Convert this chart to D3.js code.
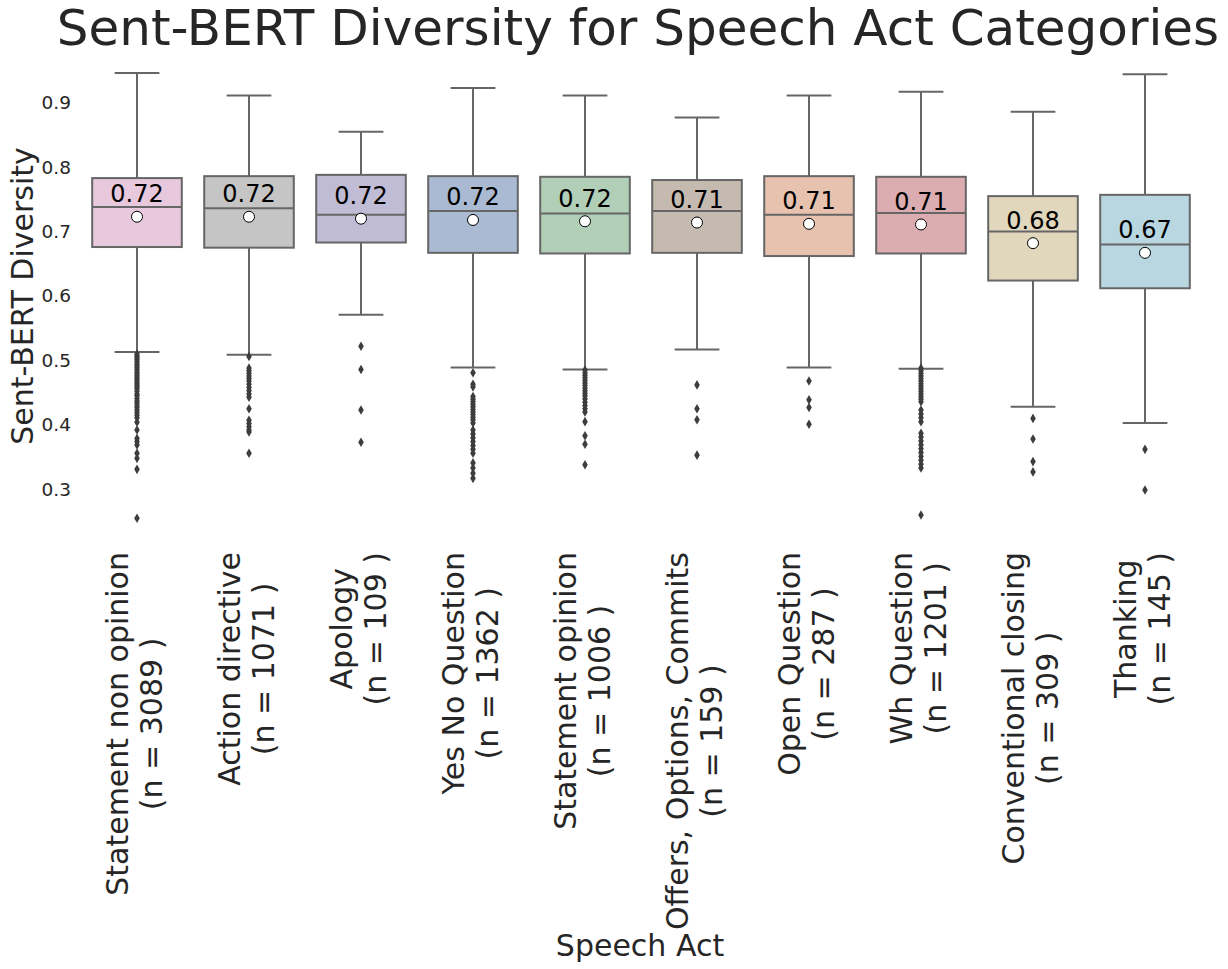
<!DOCTYPE html>
<html>
<head>
<meta charset="utf-8">
<script src="https://cdn.jsdelivr.net/npm/d3@7/dist/d3.min.js"></script>
<style>
  html, body { margin: 0; padding: 0; background: #fff; }
  svg { display: block; font-family: "DejaVu Sans", sans-serif; }
</style>
</head>
<body>
<svg id="chart" width="1228" height="969"></svg>
<script>
// ---- Data ----
const categories = ["Statement non opinion", "Action directive", "Apology", "Yes No Question",
  "Statement opinion", "Offers, Options, Commits", "Open Question", "Wh Question",
  "Conventional closing", "Thanking"];
const counts = [3089, 1071, 109, 1362, 1006, 159, 287, 1201, 309, 145];
const whiskerHigh = [0.946, 0.911, 0.855, 0.923, 0.911, 0.877, 0.911, 0.917, 0.886, 0.944];
const q3 = [0.783, 0.786, 0.788, 0.786, 0.785, 0.780, 0.786, 0.785, 0.755, 0.757];
const medians = [0.738, 0.736, 0.726, 0.732, 0.728, 0.732, 0.726, 0.729, 0.700, 0.680];
const q1 = [0.676, 0.675, 0.683, 0.667, 0.666, 0.667, 0.662, 0.666, 0.624, 0.612];
const whiskerLow = [0.513, 0.509, 0.571, 0.489, 0.486, 0.517, 0.489, 0.487, 0.428, 0.403];
const means = [0.723, 0.723, 0.720, 0.718, 0.716, 0.714, 0.712, 0.711, 0.682, 0.667];
const outliers = [
  [0.510, 0.507, 0.504, 0.501, 0.498, 0.495, 0.492, 0.489, 0.486, 0.483, 0.480, 0.477, 0.474,
   0.471, 0.468, 0.465, 0.462, 0.459, 0.456, 0.452, 0.448, 0.445, 0.441, 0.437, 0.434, 0.430,
   0.427, 0.423, 0.419, 0.415, 0.411, 0.404, 0.392, 0.379, 0.374, 0.369, 0.356, 0.348, 0.331, 0.255],
  [0.506, 0.488, 0.484, 0.480, 0.476, 0.472, 0.468, 0.463, 0.458, 0.453, 0.448, 0.443, 0.425,
   0.407, 0.402, 0.397, 0.392, 0.389, 0.356],
  [0.522, 0.486, 0.423, 0.373],
  [0.481, 0.463, 0.459, 0.444, 0.440, 0.436, 0.432, 0.428, 0.424, 0.420, 0.416, 0.412, 0.408,
   0.403, 0.392, 0.386, 0.380, 0.374, 0.368, 0.362, 0.356, 0.341, 0.333, 0.325, 0.317],
  [0.485, 0.481, 0.477, 0.473, 0.469, 0.465, 0.461, 0.457, 0.453, 0.449, 0.445, 0.440, 0.435,
   0.430, 0.425, 0.420, 0.405, 0.383, 0.370, 0.338],
  [0.462, 0.425, 0.408, 0.353],
  [0.468, 0.439, 0.427, 0.401],
  [0.488, 0.484, 0.480, 0.476, 0.472, 0.468, 0.464, 0.460, 0.456, 0.452, 0.448, 0.444, 0.440,
   0.436, 0.423, 0.417, 0.411, 0.405, 0.387, 0.381, 0.375, 0.369, 0.363, 0.357, 0.351, 0.345,
   0.339, 0.333, 0.260],
  [0.410, 0.378, 0.343, 0.327],
  [0.362, 0.299]
];
const colors = ["#e8c8dd", "#c5c5c5", "#c1bcd5", "#aabad3", "#b1cfb6", "#c5bab0",
  "#e7c2ae", "#dbacb0", "#e0d7bd", "#b8d7e0"];
const yTicks = [0.3, 0.4, 0.5, 0.6, 0.7, 0.8, 0.9];
const title = "Sent-BERT Diversity for Speech Act Categories";
const xTitle = "Speech Act";
const yTitle = "Sent-BERT Diversity";

// ---- Drawing ----
const svg = d3.select("#chart");
const textColor = "#262626";
const edge = "#666666";

const x = d3.scaleBand().domain(categories).range([81, 1201]).paddingInner(0.2).paddingOuter(0.1);
const y = d3.scaleLinear().domain([0.3, 0.9]).range([489.3, 102.7]);
const bw = x.bandwidth();

// title
svg.append("text").attr("x", 638).attr("y", 45).attr("text-anchor", "middle")
  .attr("font-size", 50).attr("fill", textColor).text(title);

// y axis (no line, no ticks)
const yAxis = d3.axisLeft(y).tickValues(yTicks).tickFormat(d3.format(".1f")).tickSize(0).tickPadding(0);
const gy = svg.append("g").attr("transform", "translate(71,0)").call(yAxis);
gy.select(".domain").remove();
gy.attr("font-size", null).attr("font-family", null);
gy.selectAll("text").attr("font-size", 18.5).attr("fill", textColor)
  .attr("font-family", "DejaVu Sans, sans-serif");

// y title
svg.append("text").attr("transform", "translate(33,296) rotate(-90)").attr("text-anchor", "middle")
  .attr("font-size", 30).attr("fill", textColor).text(yTitle);

// boxes
const data = categories.map((c, i) => ({
  c, i, hi: whiskerHigh[i], q3: q3[i], med: medians[i], q1: q1[i], lo: whiskerLow[i],
  mean: means[i], out: outliers[i], color: colors[i]
}));

const g = svg.append("g");
const box = g.selectAll("g.box").data(data).join("g").attr("class", "box")
  .attr("transform", d => `translate(${x(d.c) + bw / 2},0)`);

// whiskers
box.append("line").attr("x1", 0).attr("x2", 0).attr("y1", d => y(d.q3)).attr("y2", d => y(d.hi))
  .attr("stroke", edge).attr("stroke-width", 2);
box.append("line").attr("x1", 0).attr("x2", 0).attr("y1", d => y(d.q1)).attr("y2", d => y(d.lo))
  .attr("stroke", edge).attr("stroke-width", 2);
box.append("line").attr("x1", -bw / 4).attr("x2", bw / 4).attr("y1", d => y(d.hi)).attr("y2", d => y(d.hi))
  .attr("stroke", edge).attr("stroke-width", 2);
box.append("line").attr("x1", -bw / 4).attr("x2", bw / 4).attr("y1", d => y(d.lo)).attr("y2", d => y(d.lo))
  .attr("stroke", edge).attr("stroke-width", 2);
// box
box.append("rect").attr("x", -bw / 2).attr("width", bw)
  .attr("y", d => y(d.q3)).attr("height", d => y(d.q1) - y(d.q3))
  .attr("fill", d => d.color).attr("stroke", edge).attr("stroke-width", 2);
// median
box.append("line").attr("x1", -bw / 2).attr("x2", bw / 2).attr("y1", d => y(d.med)).attr("y2", d => y(d.med))
  .attr("stroke", edge).attr("stroke-width", 2);
// outliers (thin diamonds)
box.selectAll("path.flier").data(d => d.out).join("path").attr("class", "flier")
  .attr("d", v => { const cy = y(v); return `M0,${cy - 4.8}L2.8,${cy}L0,${cy + 4.8}L-2.8,${cy}Z`; })
  .attr("fill", "#3d3d3d");
// mean
box.append("circle").attr("cx", 0).attr("cy", d => y(d.mean)).attr("r", 5.5)
  .attr("fill", "#ffffff").attr("stroke", "#000").attr("stroke-width", 1);
// mean label
box.append("text").attr("x", 0).attr("y", d => y(d.mean) - 14.5).attr("text-anchor", "middle")
  .attr("font-size", 24).attr("fill", "#000").text(d => d.mean.toFixed(2));

// x tick labels (rotated, two lines, block top-aligned)
const lab = svg.append("g").selectAll("g.xl").data(data).join("g").attr("class", "xl")
  .attr("transform", d => `translate(${x(d.c) + bw / 2},552) rotate(-90)`);
lab.each(function (d) {
  const el = d3.select(this);
  const lines = [d.c, `(n = ${counts[d.i]} )`];
  const t = lines.map((s, k) => el.append("text").attr("font-size", 30).attr("fill", textColor)
    .attr("text-anchor", "middle").attr("y", k === 0 ? -9 : 25).text(s));
  const maxLen = d3.max(t, n => n.node().getComputedTextLength());
  t.forEach(n => n.attr("x", -maxLen / 2));
});

// x title
svg.append("text").attr("x", 640).attr("y", 956).attr("text-anchor", "middle")
  .attr("font-size", 30).attr("fill", textColor).text(xTitle);
</script>
</body>
</html>
